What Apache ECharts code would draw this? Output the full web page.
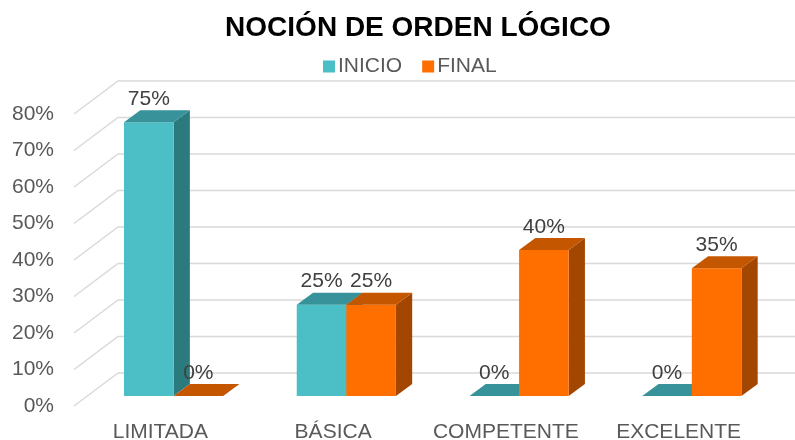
<!DOCTYPE html>
<html>
<head>
<meta charset="utf-8">
<script src="https://cdn.jsdelivr.net/npm/echarts@6/dist/echarts.min.js"></script>
<style>
  html, body { margin: 0; padding: 0; background: #fff; }
  #main { width: 795px; height: 440px; }
</style>
</head>
<body>
<div id="main"></div>
<script>
var categories = ['LIMITADA', 'BÁSICA', 'COMPETENTE', 'EXCELENTE'];
var inicio = [0.75, 0.25, 0, 0];
var final = [0, 0.25, 0.40, 0.35];
var ticks = [0, 0.1, 0.2, 0.3, 0.4, 0.5, 0.6, 0.7, 0.8];

// vector de profundidad (pared del fondo)
var DX = 44, DY = -33;
var D0 = 0.3, D1 = 0.67;

var colores = {
  inicio: { front: '#4bbec6', top: '#37929a', side: '#2b7a7d' },
  final: { front: '#ff6f00', top: '#c55600', side: '#a34600' }
};

function barra(lado, col) {
  return function (params, api) {
    var idx = api.value(0), val = api.value(1);
    var base = api.coord([idx, 0]);
    var tope = api.coord([idx, val]);
    var band = api.size([1, 0])[0];
    var bw = band * 0.287;
    var x0 = lado === 0 ? base[0] - bw : base[0];
    var fx = x0 + D0 * DX, fy0 = base[1] + D0 * DY, fy1 = tope[1] + D0 * DY;
    var bx = x0 + D1 * DX, by1 = tope[1] + D1 * DY, by0 = base[1] + D1 * DY;
    var hijos = [];
    if (val > 0) {
      hijos.push({
        type: 'polygon',
        shape: { points: [[fx + bw, fy1], [bx + bw, by1], [bx + bw, by0], [fx + bw, fy0]] },
        style: { fill: col.side }
      });
      hijos.push({
        type: 'rect',
        shape: { x: fx, y: fy1, width: bw, height: fy0 - fy1 },
        style: { fill: col.front }
      });
    }
    hijos.push({
      type: 'polygon',
      shape: { points: [[fx, fy1], [fx + bw, fy1], [bx + bw, by1], [bx, by1]] },
      style: { fill: col.top }
    });
    hijos.push({
      type: 'text',
      style: {
        text: Math.round(val * 100) + '%',
        x: fx + bw / 2,
        y: by1 - 11,
        align: 'center',
        verticalAlign: 'middle',
        fill: '#404040',
        font: '21px "Liberation Sans", Arial, sans-serif'
      }
    });
    return { type: 'group', children: hijos };
  };
}

function rejilla(params, api) {
  var v = api.value(0);
  var p = api.coord([0, v]);
  var x = params.coordSys.x;
  return {
    type: 'polyline',
    shape: { points: [[x, p[1]], [x + DX, p[1] + DY], [900, p[1] + DY]] },
    style: { stroke: '#d9d9d9', lineWidth: 1.5, fill: null }
  };
}

var myChart = echarts.init(document.getElementById('main'));
var option = {
  animation: false,
  title: {
    text: 'NOCIÓN DE ORDEN LÓGICO',
    left: 413,
    textAlign: 'center',
    top: 9,
    textStyle: {
      fontFamily: '"Liberation Sans", Arial, sans-serif',
      fontSize: 28,
      fontWeight: 'bold',
      color: '#000'
    }
  },
  legend: {
    data: [
      { name: 'INICIO', itemStyle: { color: colores.inicio.front } },
      { name: 'FINAL', itemStyle: { color: colores.final.front } }
    ],
    left: 318,
    top: 51,
    icon: 'rect',
    itemWidth: 12,
    itemHeight: 12,
    itemGap: 20,
    textStyle: {
      fontFamily: '"Liberation Sans", Arial, sans-serif',
      fontSize: 21,
      color: '#595959',
      padding: [0, 0, 0, -2]
    }
  },
  grid: {
    left: 74,
    right: 30,
    top: 114,
    bottom: 34,
    containLabel: false,
    outerBoundsMode: 'none'
  },
  xAxis: {
    type: 'category',
    data: categories,
    axisLine: { show: false },
    axisTick: { show: false },
    axisLabel: {
      interval: 0,
      margin: 16,
      fontSize: 21,
      color: '#595959',
      fontFamily: '"Liberation Sans", Arial, sans-serif'
    }
  },
  yAxis: {
    type: 'value',
    min: 0,
    max: 0.8,
    interval: 0.1,
    splitLine: { show: false },
    axisLine: { show: false },
    axisTick: { show: false },
    axisLabel: {
      margin: 20,
      fontSize: 21,
      color: '#595959',
      fontFamily: '"Liberation Sans", Arial, sans-serif',
      formatter: function (v) { return Math.round(v * 100) + '%'; }
    }
  },
  series: [
    {
      name: 'grid',
      type: 'custom',
      silent: true,
      renderItem: rejilla,
      encode: { y: 0 },
      data: ticks.map(function (t) { return [t]; }),
      z: 1
    },
    {
      name: 'INICIO',
      type: 'custom',
      renderItem: barra(0, colores.inicio),
      itemStyle: { color: colores.inicio.front },
      encode: { x: 0, y: 1 },
      data: inicio.map(function (v, i) { return [i, v]; }),
      z: 2
    },
    {
      name: 'FINAL',
      type: 'custom',
      renderItem: barra(1, colores.final),
      itemStyle: { color: colores.final.front },
      encode: { x: 0, y: 1 },
      data: final.map(function (v, i) { return [i, v]; }),
      z: 3
    }
  ]
};
myChart.setOption(option);
</script>
</body>
</html>
